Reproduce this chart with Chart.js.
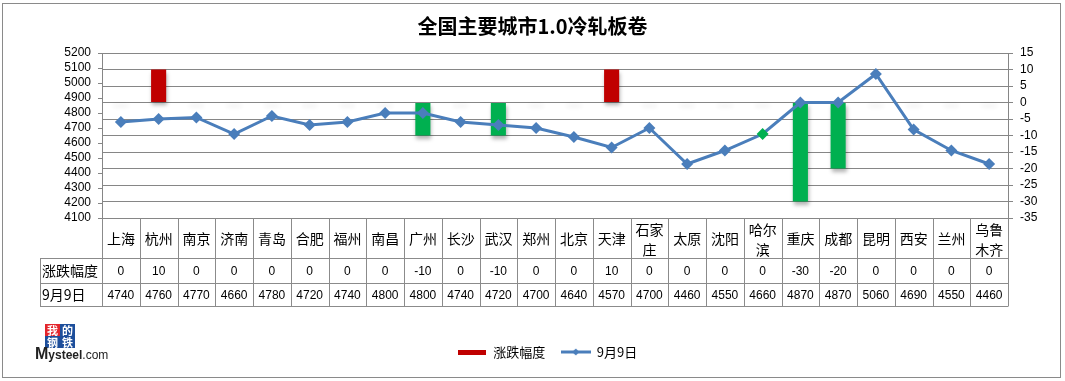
<!DOCTYPE html>
<html>
<head>
<meta charset="utf-8">
<script src="https://cdn.jsdelivr.net/npm/chart.js@4.4.1/dist/chart.umd.min.js"></script>
<style>
html,body{margin:0;padding:0;background:#fff;}
#wrap{position:relative;width:1065px;height:381px;overflow:hidden;background:#fff;}
#c{position:absolute;left:0;top:0;}
#frame{position:absolute;left:2px;top:3px;width:1059px;height:375px;border:1px solid #8a8a8a;box-sizing:border-box;pointer-events:none;}
#logo{position:absolute;left:35px;top:324px;width:72px;height:40px;}
.sq{position:absolute;width:15px;height:12px;color:#fff;font:bold 11px "Noto Sans CJK SC";line-height:12px;text-align:center;}
#ms{position:absolute;left:0;top:21px;white-space:nowrap;color:#222;font-family:"Liberation Sans";}
#ms .M{font-size:16px;font-weight:bold;}
#ms .y{font-size:12px;font-weight:bold;}
#ms .com{font-size:12px;}
</style>
</head>
<body>
<div id="wrap">
  <canvas id="c" width="1065" height="381"></canvas>
  <div id="frame"></div>
  <div id="logo">
    <div class="sq" style="left:10px;top:0;background:#e3242b">我</div>
    <div class="sq" style="left:25px;top:0;background:#1d4e9b">的</div>
    <div class="sq" style="left:10px;top:12px;background:#1d4e9b">钢</div>
    <div class="sq" style="left:25px;top:12px;background:#1d4e9b">铁</div>
    <div id="ms"><span class="M">M</span><span class="y">ysteel</span><span class="com">.com</span></div>
  </div>
</div>
<script>
// ---- data ----
const categories = ['上海','杭州','南京','济南','青岛','合肥','福州','南昌','广州','长沙','武汉','郑州','北京','天津','石家庄','太原','沈阳','哈尔滨','重庆','成都','昆明','西安','兰州','乌鲁木齐'];
const categoryLabelLines = [['上海'],['杭州'],['南京'],['济南'],['青岛'],['合肥'],['福州'],['南昌'],['广州'],['长沙'],['武汉'],['郑州'],['北京'],['天津'],['石家','庄'],['太原'],['沈阳'],['哈尔','滨'],['重庆'],['成都'],['昆明'],['西安'],['兰州'],['乌鲁','木齐']];
const changeLabel = '涨跌幅度';
const changes = [0,10,0,0,0,0,0,0,-10,0,-10,0,0,10,0,0,0,0,-30,-20,0,0,0,0];
const priceLabel = '9月9日';
const prices = [4740,4760,4770,4660,4780,4720,4740,4800,4800,4740,4720,4700,4640,4570,4700,4460,4550,4660,4870,4870,5060,4690,4550,4460];
const highlightedPoint = '哈尔滨';
const titleText = '全国主要城市1.0冷轧板卷';

// ---- colours ----
const RED = '#C00000', GREEN = '#00B050', BLUE = '#4A7EBB', GRID = '#868686';

const barColors = changes.map(v => v >= 0 ? RED : GREEN);
const pointColors = categories.map(c => c === highlightedPoint ? GREEN : BLUE);

function barIcon(){
  const c = document.createElement('canvas'); c.width = 28; c.height = 5;
  const g = c.getContext('2d'); g.fillStyle = RED; g.fillRect(0,0,28,5); return c;
}
function lineIcon(){
  const c = document.createElement('canvas'); c.width = 30; c.height = 8;
  const g = c.getContext('2d');
  g.strokeStyle = BLUE; g.lineWidth = 3; g.beginPath(); g.moveTo(0,4); g.lineTo(30,4); g.stroke();
  g.fillStyle = BLUE; g.beginPath(); g.moveTo(15,0.5); g.lineTo(18.5,4); g.lineTo(15,7.5); g.lineTo(11.5,4); g.closePath(); g.fill();
  return c;
}
const icons = [barIcon(), lineIcon()];

const shadowPlugin = {
  id: 'barShadow',
  beforeDatasetDraw(chart, args){
    if (args.index !== 0) return;
    const ctx = chart.ctx;
    ctx.save();
    const meta = chart.getDatasetMeta(0);
    ctx.save();
    ctx.shadowColor = 'rgba(0,0,0,0.16)';
    ctx.shadowBlur = 4;
    ctx.shadowOffsetX = 0;
    ctx.shadowOffsetY = 10003;
    ctx.fillStyle = '#000';
    meta.data.forEach((el, i) => {
      if (changes[i] === 0) {
        const w = el.width;
        ctx.fillRect(el.x - w/2, el.base - 10000, w, 1);
      }
    });
    ctx.restore();
    ctx.shadowColor = 'rgba(0,0,0,0.30)';
    ctx.shadowBlur = 4;
    ctx.shadowOffsetX = 1;
    ctx.shadowOffsetY = 3;
  },
  afterDatasetDraw(chart, args){
    if (args.index !== 0) return;
    chart.ctx.restore();
  }
};

const tablePlugin = {
  id: 'dataTable',
  afterLayout(chart){
    if (chart.legend) { chart.legend.left = 30; }
  },
  afterDraw(chart){
    const ctx = chart.ctx;
    const x = chart.scales.x;
    const n = categories.length;
    const cw = (x.right - x.left) / n;
    const top = chart.chartArea.bottom;
    const r1 = top + 40, r2 = r1 + 25, r3 = r2 + 23;
    const hdrLeft = 40;
    ctx.save();
    ctx.strokeStyle = '#8b8b8b';
    ctx.lineWidth = 1;
    ctx.beginPath();
    [r1, r2, r3].forEach(yy => { ctx.moveTo(hdrLeft, Math.round(yy)+0.5); ctx.lineTo(x.right, Math.round(yy)+0.5); });
    for (let i = 0; i <= n; i++) {
      const px = Math.round(x.left + i*cw) + 0.5;
      ctx.moveTo(px, top); ctx.lineTo(px, Math.round(r3)+0.5);
    }
    ctx.moveTo(hdrLeft + 0.5, Math.round(r1)+0.5); ctx.lineTo(hdrLeft + 0.5, Math.round(r3)+0.5);
    ctx.stroke();

    ctx.fillStyle = '#000';
    ctx.textBaseline = 'middle';
    ctx.textAlign = 'center';
    ctx.font = '14px "Noto Sans CJK SC"';
    categoryLabelLines.forEach((lines, i) => {
      const cx = x.getPixelForValue(i);
      if (lines.length === 1) {
        ctx.fillText(lines[0], cx, (top + r1)/2 + 1);
      } else {
        ctx.fillText(lines[0], cx, top + 12);
        ctx.fillText(lines[1], cx, top + 32);
      }
    });
    ctx.textAlign = 'left';
    ctx.font = '14px "Noto Sans CJK SC"';
    ctx.fillText(changeLabel, hdrLeft + 2, (r1 + r2)/2);
    ctx.fillText(priceLabel, hdrLeft + 2, (r2 + r3)/2);
    ctx.textAlign = 'center';
    ctx.font = '12px "Liberation Sans"';
    for (let i = 0; i < n; i++) {
      const cx = x.getPixelForValue(i);
      ctx.fillText(String(changes[i]), cx, (r1 + r2)/2 + 1);
      ctx.fillText(String(prices[i]), cx, (r2 + r3)/2 + 1);
    }
    ctx.restore();
  }
};

new Chart(document.getElementById('c'), {
  data: {
    labels: categories,
    datasets: [
      {
        type: 'bar',
        label: changeLabel,
        data: changes,
        yAxisID: 'y1',
        backgroundColor: barColors,
        borderWidth: 0,
        barPercentage: 1,
        categoryPercentage: 0.4,
        order: 2
      },
      {
        type: 'line',
        label: priceLabel,
        data: prices,
        yAxisID: 'y',
        borderColor: BLUE,
        borderWidth: 3,
        pointStyle: 'rectRot',
        pointRadius: 6,
        pointBackgroundColor: pointColors,
        pointBorderColor: pointColors,
        pointBorderWidth: 0,
        tension: 0,
        order: 1
      }
    ]
  },
  options: {
    responsive: false,
    animation: false,
    events: [],
    layout: { padding: { left: 0, right: 0, top: 0, bottom: 12.5 } },
    scales: {
      x: {
        type: 'category',
        offset: true,
        grid: { display: false },
        border: { display: false },
        ticks: { display: false },
        afterFit(scale){ scale.height = 111.5; }
      },
      y: {
        position: 'left',
        min: 4100, max: 5200,
        ticks: { stepSize: 100, autoSkip: false, color: '#000', font: { family: 'Liberation Sans', size: 12 }, padding: 7,
                 callback: v => String(v) },
        grid: { drawOnChartArea: false, drawTicks: true, tickLength: 4, color: GRID },
        border: { display: true, color: GRID },
        afterFit(scale){ scale.width = 102; }
      },
      y1: {
        position: 'right',
        min: -35, max: 15,
        ticks: { stepSize: 5, autoSkip: false, color: '#000', font: { family: 'Liberation Sans', size: 12 }, padding: 7,
                 callback: v => String(v) },
        grid: { drawOnChartArea: true, drawTicks: true, tickLength: 5, color: GRID },
        border: { display: true, color: GRID },
        afterFit(scale){ scale.width = 57; }
      }
    },
    plugins: {
      title: {
        display: true,
        text: titleText,
        color: '#000',
        font: { family: 'Noto Sans CJK SC', size: 20, weight: 'bold' },
        padding: { top: 14, bottom: 15 }
      },
      legend: {
        display: true,
        position: 'bottom',
        labels: {
          color: '#000',
          font: { family: 'Noto Sans CJK SC', size: 13 },
          usePointStyle: true,
          pointStyleWidth: 29,
          padding: 16,
          sort: (a, b) => a.datasetIndex - b.datasetIndex,
          generateLabels(chart){
            const items = Chart.defaults.plugins.legend.labels.generateLabels(chart);
            items.forEach(it => { it.pointStyle = icons[it.datasetIndex]; });
            return items;
          }
        }
      },
      tooltip: { enabled: false }
    }
  },
  plugins: [shadowPlugin, tablePlugin]
});
</script>
</body>
</html>
